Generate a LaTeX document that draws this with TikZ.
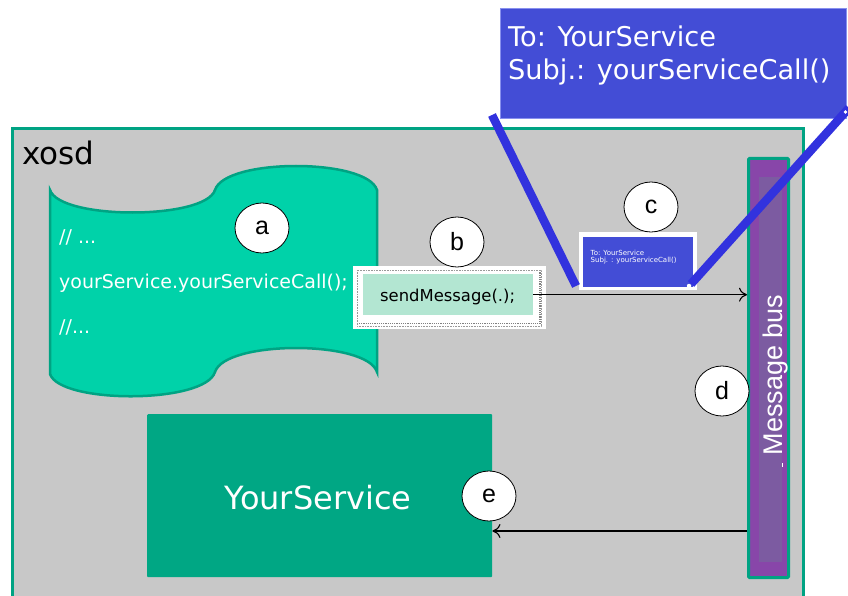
\documentclass[tikz,border=0pt]{standalone}
\usepackage{fontspec}
\setmainfont{DejaVu Sans}
\newfontfamily\arialfont{Liberation Sans}
\usetikzlibrary{arrows.meta,shapes.geometric}

\definecolor{panelgray}{HTML}{C8C8C8}
\definecolor{tealedge}{HTML}{00A383}
\definecolor{scrollfill}{HTML}{00D2A9}
\definecolor{servicefill}{HTML}{00A784}
\definecolor{mintfill}{HTML}{B3E6D2}
\definecolor{mailblue}{HTML}{434DD6}
\definecolor{mailedge}{HTML}{8890EE}
\definecolor{pointerblue}{HTML}{3232DE}
\definecolor{busouter}{HTML}{8846A9}
\definecolor{businner}{HTML}{7C5BA1}

\tikzset{
  fs/.style={font=\fontsize{#1}{#1}\selectfont},
  marker/.style={ellipse, draw=black, line width=0.8pt, fill=white,
    minimum width=54, minimum height=50, inner sep=0,
    font=\arialfont\fontsize{25}{25}\selectfont},
  flow/.style={draw=black, line width=1.1pt, -{To[length=8,width=14]}},
  pointer/.style={draw=pointerblue, line width=8.5pt},
  codeline/.style={anchor=base west, inner sep=0, text=white, fs=19},
}

\begin{document}
\begin{tikzpicture}[x=1pt,y=-1pt]
\useasboundingbox (0,0) rectangle (848,596);
\clip (0,0) rectangle (848,596);

% system panel
\node[draw=tealedge, line width=3pt, fill=panelgray, minimum width=791, minimum height=480,
  inner sep=0, anchor=north west] (panel) at (11,127) {};
\node[anchor=base west, inner sep=0, fs=31] (xosd) at (22,165) {xosd};

% source code scroll
\draw[draw=tealedge, line width=2.5pt, fill=scrollfill]
  (50,190) .. controls (60,220) and (205,220) .. (215,190)
           .. controls (225,158) and (367,158) .. (377,190)
  -- (377,372) .. controls (367,340) and (225,340) .. (215,372)
           .. controls (205,404) and (60,404) .. (50,374) -- cycle;
\node[codeline] (c1) at (59,243) {// ...};
\node[codeline] (c2) at (59,288) {yourService.yourServiceCall();};
\node[codeline] (c3) at (59,333) {//...};

% sendMessage call
\node[fill=white, minimum width=193, minimum height=63, inner sep=0, anchor=north west]
  (send) at (353,266) {};
\draw[gray!80, densely dotted, line width=0.6pt] (357,270) rectangle (541,326);
\draw[gray, densely dotted, line width=1.2pt] (359,323.5) -- (540,323.5) -- (540,272);
\node[fill=mintfill, minimum width=170, minimum height=41, inner sep=0, anchor=north west]
  (mint) at (363,274) {};
\node[anchor=base west, inner sep=0, fs=16.4] (sendtxt) at (380,301.5) {sendMessage(.);};

% service
\node[fill=servicefill, rounded corners=1pt, minimum width=345, minimum height=163,
  inner sep=0, anchor=north west] (svc) at (147,414) {};
\node[anchor=base, inner sep=0, text=white, fs=32] (svctxt) at (318,509) {YourService};

% message bus
\node[draw=tealedge, line width=3pt, fill=busouter, rounded corners=1pt,
  minimum width=40, minimum height=419, inner sep=0, anchor=north west] (bus) at (747,157) {};
\node[fill=businner, minimum width=23, minimum height=385, inner sep=0, anchor=north west]
  (businner) at (759,177) {};
\node[rotate=90, anchor=base, inner sep=0, text=white, font=\arialfont\fontsize{27}{27}\selectfont]
  (bustxt) at (782,375) {Message bus};
\draw[white, line width=1pt] (782,463) -- (782,467);

% message flow
\draw[flow] (mint.east) -- (mint.east -| bus.west);
\coordinate (busout) at (747,531);
\draw[flow] (busout) -- (busout -| svc.east);

% message in transit
\node[fill=white, minimum width=118, minimum height=58, inner sep=0, anchor=north west]
  (msg) at (579,232) {};
\node[fill=mailblue, minimum width=110, minimum height=50, inner sep=0, anchor=north west]
  (msgin) at (583,237) {};
\node[anchor=base west, inner sep=0, text=white, fs=7] (m1) at (590.5,255) {To: YourService};
\node[anchor=base west, inner sep=0, text=white, fs=7] (m2) at (590.5,262.7) {Subj. : yourServiceCall()};

% enlarged message
\node[fill=mailblue, draw=mailedge, line width=0.8pt, minimum width=346, minimum height=110,
  inner sep=0, anchor=north west] (mail) at (500,8) {};
\node[anchor=base west, inner sep=0, text=white, fs=27.2] (t1) at (508,47) {To: YourService};
\node[anchor=base west, inner sep=0, text=white, fs=27.2] (t2) at (508,80) {Subj.: yourServiceCall()};

% callout pointers
\coordinate (pl1) at (492,115);
\coordinate (pl2) at (576,286);
\coordinate (pr1) at (849,108);
\coordinate (pr2) at (691,284);
\draw[pointer] (pl1) -- (pl2);
\draw[pointer] (pr1) -- (pr2);
\fill[white] (689,286) circle (2.2);
\fill[white] (845.5,112) circle (1.8);

% step markers
\node[marker] (ma) at (262,228) {a};
\node[marker] (mb) at (457,242) {b};
\node[marker] (mc) at (651,207) {c};
\node[marker] (md) at (722,391) {d};
\node[marker] (me) at (489,496) {e};
\end{tikzpicture}
\end{document}
